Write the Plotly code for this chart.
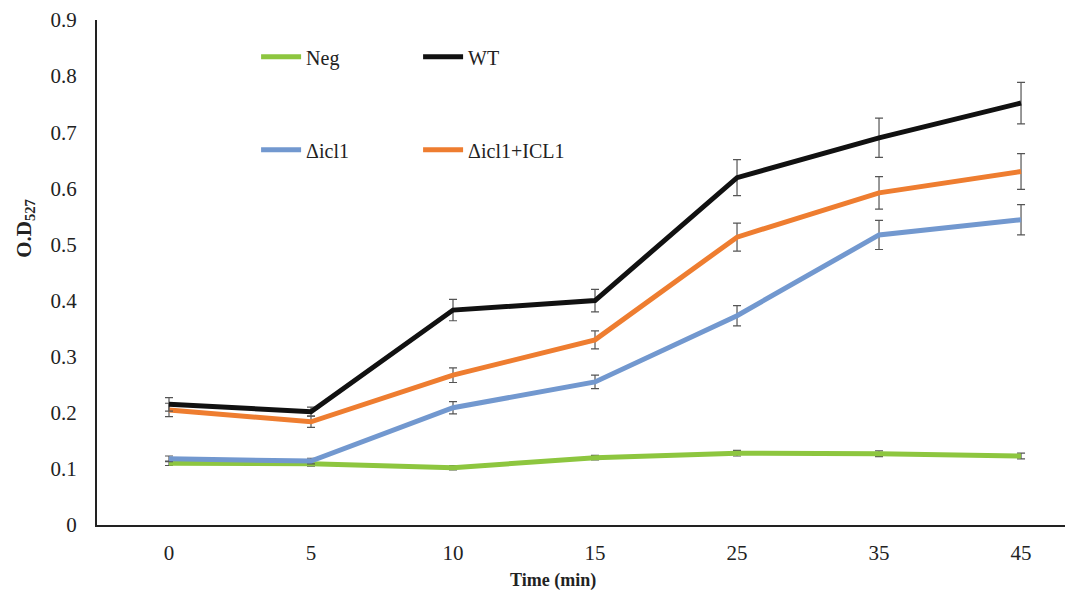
import plotly.graph_objects as go

times = ["0", "5", "10", "15", "25", "35", "45"]

neg = [0.110, 0.109, 0.102, 0.120, 0.128, 0.127, 0.123]
neg_err = [0.004, 0.004, 0.004, 0.004, 0.005, 0.005, 0.005]

wt = [0.215, 0.202, 0.383, 0.400, 0.619, 0.690, 0.752]
wt_err = [0.012, 0.008, 0.019, 0.020, 0.032, 0.035, 0.037]

dicl1 = [0.118, 0.114, 0.209, 0.255, 0.373, 0.517, 0.544]
dicl1_err = [0.005, 0.005, 0.011, 0.012, 0.018, 0.026, 0.027]

comp = [0.205, 0.184, 0.267, 0.330, 0.513, 0.592, 0.630]
comp_err = [0.012, 0.010, 0.013, 0.016, 0.025, 0.029, 0.032]

FONT = "Liberation Serif"

fig = go.Figure()

def add(name, y, err, color, legend):
    fig.add_trace(go.Scatter(
        x=times, y=y, name=name, mode="lines",
        line=dict(color=color, width=5),
        error_y=dict(type="data", array=err, visible=True, color="#555555", thickness=1.2, width=4),
        legend=legend,
    ))

add("Neg", neg, neg_err, "#8DC63F", "legend")
add("Δicl1", dicl1, dicl1_err, "#7298CF", "legend2")
add("Δicl1+ICL1", comp, comp_err, "#EE7D30", "legend2")
add("WT", wt, wt_err, "#111111", "legend")

leg_common = dict(orientation="h", xanchor="left", yanchor="middle", bgcolor="rgba(0,0,0,0)",
                  entrywidth=107, entrywidthmode="pixels", font=dict(family=FONT, size=20, color="#222"),
                  itemwidth=40, traceorder="normal")

fig.update_layout(
    width=1073, height=593,
    margin=dict(l=89, r=8, t=12, b=76),
    paper_bgcolor="white", plot_bgcolor="white",
    font=dict(family=FONT, size=21, color="#222"),
    xaxis=dict(type="category", range=[-0.507, 6.366], showline=True, linecolor="#222", linewidth=2,
               ticks="", showgrid=False, zeroline=False, ticklabelstandoff=8, automargin=False),
    yaxis=dict(range=[0, 0.9], dtick=0.1, showline=True, linecolor="#222", linewidth=2,
               ticks="", showgrid=False, zeroline=False, tickformat=".1~f", ticklabelstandoff=14,
               automargin=False),
    legend=dict(x=0.163, y=0.927, **leg_common),
    legend2=dict(x=0.163, y=0.743, **leg_common),
)

# axis titles (placed off-centre as in the reference)
fig.add_annotation(xref="paper", yref="paper", x=0.467, y=-0.109, xanchor="center", yanchor="middle",
                   showarrow=False, text="<b>Time (min)</b>", font=dict(family=FONT, size=18, color="#222"))
fig.add_annotation(xref="paper", yref="paper", x=-0.074, y=0.588, xanchor="center", yanchor="middle",
                   showarrow=False, textangle=-90,
                   text="<b>O.D<sub>527</sub></b>", font=dict(family=FONT, size=21, color="#222"))

fig.write_html("out.html")
